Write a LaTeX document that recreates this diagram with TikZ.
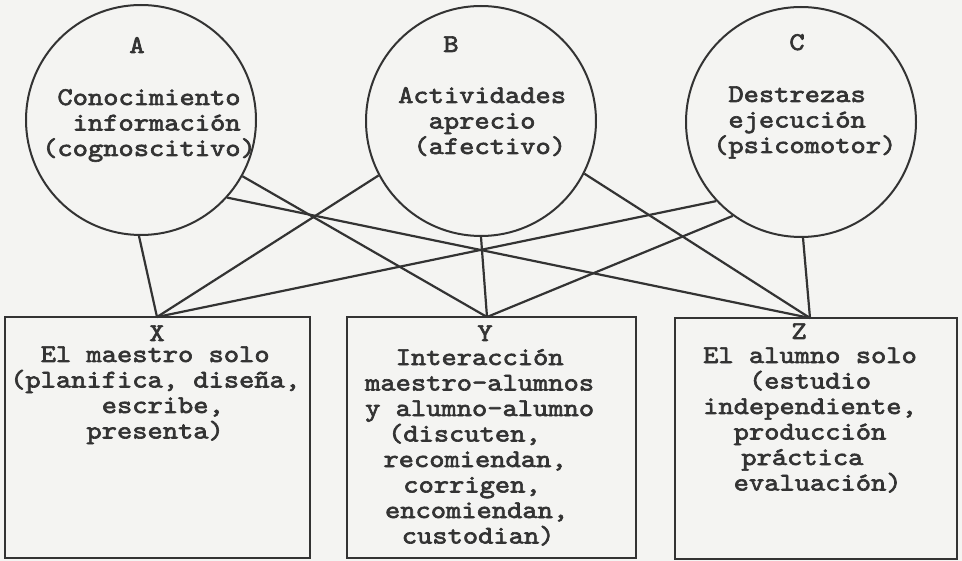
\documentclass[tikz,border=0pt]{standalone}
\usepackage{fontspec}
\newfontfamily\tw[FakeBold=2.5, FakeStretch=1.14]{lmmono10-regular.otf}
\newlength\mycw
\setlength\mycw{15.26pt}
\newcommand\ind[1]{\hspace*{#1\mycw}}
\definecolor{ink}{HTML}{333333}
\definecolor{paper}{HTML}{F4F4F2}
\begin{document}
\begin{tikzpicture}[x=1pt,y=-1pt,
  txt/.style={font={\tw\fontsize{25.5}{25.5}\selectfont}, align=left, inner sep=0pt, anchor=base west, text=ink},
  lbl/.style={font={\tw\fontsize{25.5}{25.5}\selectfont}, inner sep=0pt, anchor=base, text=ink},
  circ/.style={circle, draw=ink, line width=2pt, minimum size=230pt, inner sep=0pt},
  box/.style={rectangle, draw=ink, line width=2.8pt, inner sep=0pt},
  link/.style={draw=ink, line width=2.2pt}]
\fill[paper] (0,0) rectangle (962,561);
\useasboundingbox (0,0) rectangle (962,561);

% circles
\node[circ] (A) at (141,120) {};
\node[circ] (B) at (481,121) {};
\node[circ] (C) at (801,122) {};

% boxes
\node[box, minimum width=305pt, minimum height=241pt] (X) at (157.5,437.5) {};
\node[box, minimum width=289pt, minimum height=241pt] (Y) at (491.5,437.5) {};
\node[box, minimum width=282pt, minimum height=241pt] (Z) at (816,438.5) {};

\coordinate (Xt) at (157,317);
\coordinate (Yt) at (487,317);
\coordinate (Zt) at (810,318);

% connectors
\draw[link] (A.-91) -- (Xt);
\draw[link] (A.-29) -- (Yt);
\draw[link] (A.-42) -- (Zt);
\draw[link] (B.-152) -- (Xt);
\draw[link] (B.-90) -- (Yt);
\draw[link] (B.-27) -- (Zt);
\draw[link] (C.-137) -- (Xt);
\draw[link] (C.-126) -- (Yt);
\draw[link] (C.-89) -- (Zt);

% circle texts (anchor = baseline of last line)
\node[lbl] (Al) at (137,53) {A};
\node[txt] (At) at (42,156) {\ind{1}Conocimiento\\\ind{2}información\\(cognoscitivo)};
\node[lbl] (Bl) at (451,52) {B};
\node[txt] (Bt) at (398,154) {Actividades\\\ind{2}aprecio\\\ind{1}(afectivo)};
\node[lbl] (Cl) at (797,50) {C};
\node[txt] (Ct) at (713,153) {\ind{1}Destrezas\\\ind{1}ejecución\\(psicomotor)};

% box texts
\node[lbl] (Xl) at (157,341) {X};
\node[txt] (Xx) at (10,438.5) {\ind{2}El maestro solo\\(planifica, diseña,\\\ind{6}escribe,\\\ind{5}presenta)};
\node[lbl] (Yl) at (485,341) {Y};
\node[txt] (Yx) at (365,543.5) {\ind{2}Interacción\\maestro-alumnos\\y alumno-alumno\\\ind{1.5}(discuten,\\\ind{1.2}recomiendan,\\\ind{2.5}corrigen,\\\ind{1.3}encomiendan,\\\ind{2.4}custodian)};
\node[lbl] (Zl) at (799,339) {Z};
\node[txt] (Zx) at (703,490.5) {El alumno solo\\\ind{3}(estudio\\independiente,\\\ind{2}producción\\\ind{2.5}práctica\\\ind{2}evaluación)};
\end{tikzpicture}
\end{document}
